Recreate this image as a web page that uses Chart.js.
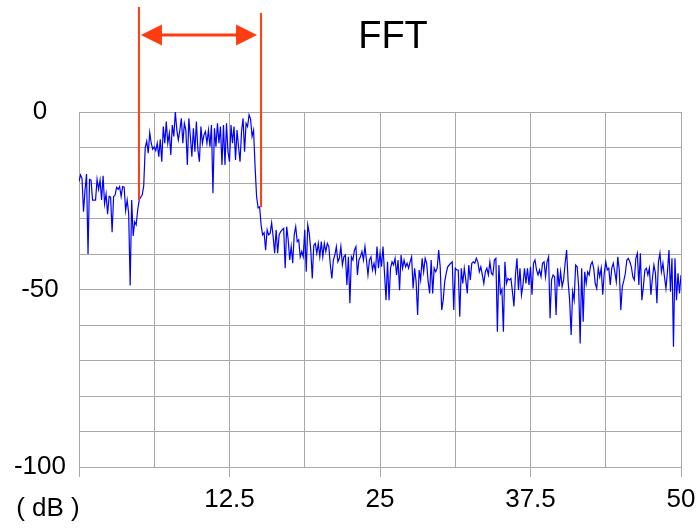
<!DOCTYPE html>
<html>
<head>
<meta charset="utf-8">
<script src="https://cdn.jsdelivr.net/npm/chart.js@4/dist/chart.umd.min.js"></script>
<style>
  html, body { margin: 0; padding: 0; background: #ffffff; }
  #wrap { width: 697px; height: 529px; }
</style>
</head>
<body>
<div id="wrap"><canvas id="fft"></canvas></div>
<script>
// spectrum, one level every 0.125 (x 0 .. 50)
const freqStep = 0.125;
const levels = [
  -19.6, -17.7, -18.7, -28.1, -22.0, -17.5, -40.0, -19.0, -19.2, -24.8,
  -24.8, -24.8, -19.0, -21.8, -19.2, -24.8, -18.0, -25.9, -23.1, -28.8,
  -23.8, -24.0, -33.9, -23.8, -23.4, -21.2, -21.8, -21.0, -23.8, -21.0,
  -21.2, -27.8, -24.8, -28.5, -48.9, -24.8, -34.9, -30.9, -31.8, -27.6,
  -24.8, -24.0, -23.4, -20.8, -10.0, -8.2, -11.6, -5.8, -8.8, -10.5,
  -9.8, -10.9, -8.8, -12.6, -7.7, -14.0, -4.1, -8.8, -2.7, -8.8,
  -6.0, -12.1, -3.7, -6.9, 0, -5.1, -7.9, -5.1, -1.8, -8.8,
  -3.2, -5.1, -14.9, -1.8, -6.9, -12.6, -4.6, -11.2, -2.7, -10.7,
  -14.0, -4.1, -8.8, -6.5, -5.5, -8.8, -5.1, -9.8, -3.7, -22.9,
  -4.6, -9.8, -3.2, -8.8, -4.1, -14.9, -3.7, -14.9, -3.2, -11.2,
  -14.0, -3.7, -8.8, -4.1, -13.5, -5.1, -9.8, -14.0, -5.5, -1.8,
  -11.2, -3.2, -4.1, -0.8, -2.0, -6.9, -5.1, -15.4, -23.8, -27.0,
  -26.7, -31.8, -34.6, -34.0, -38.9, -33.2, -34.6, -34.2, -31.2, -35.1,
  -39.8, -33.2, -39.8, -34.6, -33.7, -33.2, -32.8, -44.0, -32.3, -36.0,
  -41.7, -37.9, -42.6, -34.6, -32.3, -36.5, -36.0, -40.8, -39.3, -40.8,
  -33.2, -45.0, -31.8, -34.2, -38.9, -46.9, -37.5, -37.0, -39.8, -37.0,
  -40.8, -36.5, -40.8, -37.0, -39.3, -37.0, -37.9, -43.1, -46.9, -41.7,
  -40.3, -37.9, -42.2, -41.2, -37.9, -43.1, -40.8, -40.3, -48.7, -40.8,
  -53.9, -40.8, -41.7, -38.9, -37.9, -45.9, -41.7, -40.8, -39.3, -41.7,
  -37.9, -41.7, -45.9, -41.7, -40.8, -44.5, -42.6, -45.0, -37.9, -44.0,
  -39.8, -43.6, -37.9, -45.4, -53.0, -42.2, -53.0, -44.0, -42.2, -43.1,
  -41.2, -45.9, -41.7, -50.2, -40.3, -44.0, -41.7, -43.6, -42.6, -44.0,
  -42.2, -40.8, -49.7, -44.0, -47.8, -57.2, -44.5, -47.3, -41.2, -45.0,
  -41.2, -42.6, -47.8, -51.1, -41.7, -51.1, -44.0, -45.0, -44.0, -38.9,
  -43.6, -55.8, -53.0, -47.8, -45.4, -43.6, -43.1, -42.6, -42.2, -55.8,
  -44.0, -44.5, -44.5, -57.7, -44.0, -48.3, -44.0, -47.3, -51.1, -43.1,
  -47.3, -42.6, -42.2, -42.6, -41.2, -42.2, -45.0, -43.6, -45.9, -48.3,
  -45.0, -44.0, -45.9, -42.2, -45.4, -45.9, -41.7, -41.2, -61.9, -43.1,
  -51.1, -50.0, -61.9, -42.2, -48.3, -46.9, -47.3, -46.9, -50.6, -54.8,
  -45.9, -41.2, -50.1, -44.0, -51.5, -48.7, -44.0, -48.3, -44.0, -48.7,
  -43.6, -51.5, -42.6, -41.7, -44.5, -45.9, -44.5, -46.4, -42.6, -42.2,
  -46.4, -42.2, -40.8, -58.1, -47.3, -45.9, -46.4, -57.2, -44.0, -49.2,
  -45.0, -49.2, -47.3, -42.6, -38.9, -47.8, -53.0, -62.8, -50.6, -53.0,
  -43.1, -43.6, -49.2, -65.2, -44.0, -59.1, -45.0, -48.3, -45.0, -45.9,
  -43.1, -42.2, -44.0, -48.3, -49.7, -44.0, -46.4, -44.0, -51.5, -45.4,
  -42.2, -44.5, -44.0, -48.7, -44.0, -42.6, -45.0, -47.8, -40.8, -44.5,
  -55.8, -49.2, -47.5, -45.5, -41.7, -41.2, -42.2, -43.6, -46.4, -47.3,
  -41.2, -39.8, -48.7, -39.8, -53.0, -49.2, -44.5, -44.0, -45.9, -44.0,
  -51.5, -46.9, -43.1, -45.4, -53.9, -42.2, -39.8, -45.0, -42.6, -46.4,
  -49.7, -45.0, -38.9, -50.6, -41.2, -66.1, -41.2, -53.0, -45.4, -51.1,
  -45.9
];

// axis ticks
const xTickStep = 6.25;
const xLabelStep = 12.5;
const yTickStep = 10;
const yLabelStep = 50;

// red band markers: two verticals and the arrow between them
const markerFreqs = [4.98, 15.12];
const markerTops = [29.6, 27.9];
const markerBottoms = [-24.8, -26.8];
const arrowLevel = 21.7;

const gridGrey = '#a8a8a8';
const markRed = '#ff3c12';
const fontName = '"Liberation Sans", Arial, sans-serif';

const points = levels.map((v, i) => ({ x: i * freqStep, y: v }));

const overlay = {
  id: 'overlay',
  afterDraw(chart) {
    const ctx = chart.ctx;
    const x = chart.scales.x;
    const y = chart.scales.y;
    ctx.save();

    // vertical markers
    ctx.strokeStyle = markRed;
    ctx.lineWidth = 2;
    markerFreqs.forEach((f, k) => {
      const px = x.getPixelForValue(f);
      ctx.beginPath();
      ctx.moveTo(px, y.getPixelForValue(markerTops[k]));
      ctx.lineTo(px, y.getPixelForValue(markerBottoms[k]));
      ctx.stroke();
    });

    // double arrow
    const ay = y.getPixelForValue(arrowLevel);
    const a0 = x.getPixelForValue(markerFreqs[0]) + 2;
    const a1 = x.getPixelForValue(markerFreqs[1]) - 4;
    const head = 21;
    const half = 10.5;
    ctx.lineWidth = 3;
    ctx.beginPath();
    ctx.moveTo(a0 + head - 1, ay);
    ctx.lineTo(a1 - head + 1, ay);
    ctx.stroke();
    ctx.fillStyle = markRed;
    ctx.beginPath();
    ctx.moveTo(a0, ay);
    ctx.lineTo(a0 + head, ay - half);
    ctx.lineTo(a0 + head, ay + half);
    ctx.closePath();
    ctx.fill();
    ctx.beginPath();
    ctx.moveTo(a1, ay);
    ctx.lineTo(a1 - head, ay - half);
    ctx.lineTo(a1 - head, ay + half);
    ctx.closePath();
    ctx.fill();

    // title and unit
    ctx.fillStyle = '#000000';
    ctx.textAlign = 'center';
    ctx.textBaseline = 'middle';
    ctx.font = '38px ' + fontName;
    ctx.fillText('FFT', 393, 38);
    ctx.font = '26px ' + fontName;
    ctx.fillText('( dB )', 48, 509);
    ctx.restore();
  }
};

new Chart(document.getElementById('fft'), {
  type: 'line',
  data: {
    datasets: [{
      data: points,
      borderColor: '#0000ff',
      borderWidth: 1.2,
      pointRadius: 0,
      tension: 0,
      fill: false
    }]
  },
  options: {
    responsive: true,
    maintainAspectRatio: false,
    animation: false,
    layout: { padding: { top: 112, right: 16, left: 0, bottom: 0 } },
    plugins: {
      legend: { display: false },
      title: { display: false },
      tooltip: { enabled: false }
    },
    scales: {
      x: {
        type: 'linear',
        min: 0,
        max: 50,
        afterFit: (s) => {
          s.height = 62;
          s.paddingLeft = 0;
          s.paddingRight = 0;
        },
        border: { color: gridGrey, width: 1 },
        grid: {
          color: gridGrey,
          lineWidth: 1,
          tickLength: 10,
          tickColor: (c) => (c.tick && c.tick.value % xLabelStep === 0) ? gridGrey : 'rgba(0,0,0,0)'
        },
        ticks: {
          stepSize: xTickStep,
          autoSkip: false,
          maxRotation: 0,
          padding: 7,
          color: '#000000',
          font: { family: fontName, size: 26 },
          callback: (v) => (v > 0 && v % xLabelStep === 0) ? String(v) : ''
        }
      },
      y: {
        min: -100,
        max: 0,
        afterFit: (s) => {
          s.width = 79;
          s.paddingTop = 0;
          s.paddingBottom = 0;
        },
        border: { color: gridGrey, width: 1 },
        grid: { color: gridGrey, lineWidth: 1, drawTicks: false },
        ticks: {
          stepSize: yTickStep,
          padding: 13,
          crossAlign: 'center',
          color: '#000000',
          font: { family: fontName, size: 26 },
          callback: (v) => (v % yLabelStep === 0) ? String(v) : ''
        }
      }
    }
  },
  plugins: [overlay]
});
</script>
</body>
</html>
